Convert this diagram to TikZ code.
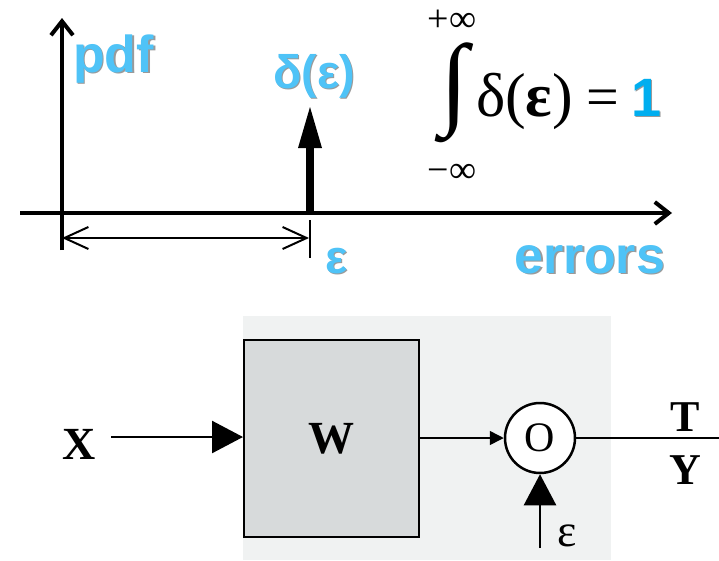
\documentclass[tikz,border=0pt]{standalone}
\usepackage{fontspec}
\setmainfont{Liberation Serif}
\newfontfamily\arialf{Liberation Sans}
\usetikzlibrary{arrows.meta}
\definecolor{cy}{HTML}{4FC3F7}
\definecolor{cyd}{HTML}{00AEEF}
\definecolor{shd}{HTML}{9A9A9A}
\definecolor{bgpanel}{HTML}{F0F2F2}
\definecolor{wfill}{HTML}{D7DADB}
\begin{document}
\begin{tikzpicture}[x=1pt,y=-1pt,
  txt/.style={inner sep=0pt,outer sep=0pt},
  cytext/.style={txt,text=cy,font=\arialf\bfseries\fontsize{52}{56}\selectfont},
  shtext/.style={txt,text=shd,font=\arialf\bfseries\fontsize{52}{56}\selectfont},
  axis/.style={line width=4pt,-{Straight Barb[length=14pt,width=22pt,line width=4pt]}},
  serifb/.style={txt,font=\bfseries\fontsize{46}{50}\selectfont},
  bigtri/.style={-{Triangle[length=31pt,width=32pt]}},
  smalltri/.style={-{Triangle[length=14pt,width=14pt]}},
]
\useasboundingbox (0,0) rectangle (719,560);
% ---------- top plot ----------
\coordinate (yorig) at (62,250);
\coordinate (ytop) at (62,18);
\coordinate (xleft) at (20,213);
\coordinate (xright) at (672,213);
\coordinate (d0) at (310,213);
\coordinate (d1) at (310,148);
\coordinate (dtip) at (310,107);
\coordinate (tk0) at (310,220);
\coordinate (tk1) at (310,258);
\coordinate (da) at (62,238);
\coordinate (db) at (309,238);
\draw[axis] (yorig) -- (ytop);
\draw[axis] (xleft) -- (xright);
\draw[line width=8pt] (d0) -- (d1);
\fill (d1) ++(-12,0) -- (dtip) -- ++(12,41) -- cycle;
\draw[line width=1.5pt] (tk0) -- (tk1);
\draw[line width=2pt,{Straight Barb[length=24pt,width=22pt,line width=2pt]}-{Straight Barb[length=24pt,width=22pt,line width=2pt]}] (da) -- (db);
% labels
\node[shtext,anchor=base west] at (74.5,73.5) {pdf};
\node[cytext,anchor=base west] (pdf) at (73,72) {pdf};
\node[shtext,anchor=base west,font=\arialf\bfseries\fontsize{47}{50}\selectfont] at (274.5,89.5) {δ(ε)};
\node[cytext,anchor=base west,font=\arialf\bfseries\fontsize{47}{50}\selectfont] (dl) at (273,88) {δ(ε)};
\node[shtext,anchor=base west,font=\arialf\bfseries\fontsize{47}{50}\selectfont] at (326.5,274.5) {ε};
\node[cytext,anchor=base west,font=\arialf\bfseries\fontsize{47}{50}\selectfont] (el) at (325,273) {ε};
\node[shtext,anchor=base east] at (666.5,274.5) {errors};
\node[cytext,anchor=base east] (err) at (665,273) {errors};
% integral
\node[txt] (int) at (454,93) {\resizebox*{!}{100pt}{∫}};
\node[txt,font=\fontsize{38}{40}\selectfont] (pinf) at (452,21) {+∞};
\node[txt,font=\fontsize{38}{40}\selectfont] (minf) at (452,173) {−∞};
\node[txt,anchor=base west,font=\fontsize{62}{64}\selectfont] (dint) at (476,116) {δ(\textbf{ε})};
\node[txt,anchor=base west,font=\fontsize{58}{62}\selectfont] (eq) at (586,116) {=};
\node[txt,anchor=base west,text=shd,font=\arialf\bfseries\fontsize{54}{58}\selectfont] at (632.5,117.5) {1};
\node[txt,anchor=base west,text=cyd,font=\arialf\bfseries\fontsize{54}{58}\selectfont] (one) at (631,116) {1};
% ---------- bottom block diagram ----------
\fill[bgpanel] (243,316) rectangle (611,560);
\node[draw,line width=2pt,fill=wfill,minimum width=175pt,minimum height=197pt,inner sep=0pt,font=\bfseries\fontsize{46}{50}\selectfont] (W) at (331.5,438.5) {W};
\node[serifb] (X) at (79,444) {X};
\node[draw,circle,line width=2.5pt,fill=white,minimum size=70pt,inner sep=0pt,font=\fontsize{42}{46}\selectfont] (O) at (540,438) {O};
\coordinate (xs) at (111,437);
\draw[line width=2.5pt,bigtri] (xs) -- (W.west |- xs);
\draw[line width=1.5pt,smalltri] (W.east |- O.west) -- (O.west);
\coordinate (out) at (719,438);
\draw[line width=1.5pt] (O.east) -- (out);
\node[serifb,font=\bfseries\fontsize{44}{48}\selectfont] (T) at (685,417) {T};
\node[serifb,font=\bfseries\fontsize{44}{48}\selectfont] (Y) at (685,470) {Y};
\coordinate (es) at (540,548);
\draw[line width=2.5pt,bigtri] (es) -- (O.south);
\node[txt,font=\fontsize{46}{50}\selectfont] (eps) at (567,536) {ε};
\end{tikzpicture}
\end{document}
